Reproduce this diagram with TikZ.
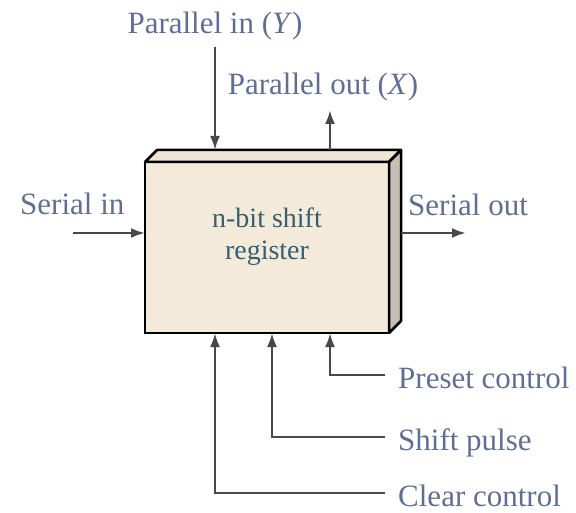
\documentclass[tikz,border=0pt]{standalone}
\usepackage{fontspec}
\setmainfont{Liberation Serif}
\usepackage{xcolor}
\usepackage{tikz}
\usetikzlibrary{
    positioning,
    arrows.meta
}

\definecolor{lblblue}{RGB}{96,110,150}
\definecolor{txtteal}{RGB}{55,95,112}
\definecolor{wire}{RGB}{72,72,72}
\definecolor{frontfill}{RGB}{243,234,218}
\definecolor{topfill}{RGB}{238,228,215}
\definecolor{sidefill}{RGB}{198,190,180}

\begin{document}
\begin{tikzpicture}[
      x=1pt, y=-1pt,
      lbl/.style={inner sep=0pt, text=lblblue, font=\fontsize{31}{36}\selectfont, text height=26pt, text depth=0pt},
      ctl/.style={lbl, inner xsep=13pt, anchor=base west},
      regbox/.style={draw, line width=2.5pt, fill=frontfill, outer sep=0pt, minimum width=244pt, minimum height=171pt},
      sig/.style={-{Latex[length=14pt,width=10pt]}, line width=2.5pt, draw=wire}
    ]
    \useasboundingbox (0,0) rectangle (576,513);

    % register block with its top and side faces
    \node[regbox] (reg) at (267,247.5) {};
    \filldraw[fill=topfill, line width=2.5pt, line join=round] (reg.north west) -- ++(12pt,12pt) -- ([shift={(12pt,12pt)}]reg.north east) -- (reg.north east) -- cycle;
    \filldraw[fill=sidefill, line width=2.5pt, line join=round] (reg.north east) -- ++(12pt,12pt) -- ([shift={(12pt,12pt)}]reg.south east) -- (reg.south east) -- cycle;
    \node[align=center, text=txtteal, font=\fontsize{28}{32}\selectfont] (regtxt) at ([yshift=11pt]reg.center) {n-bit shift\\register};

    % labels
    \node[lbl, anchor=base] (lblPin) at (215,34) {Parallel in (\textit{Y\/})};
    \node[lbl, anchor=base] (lblPout) at (323,95) {Parallel out (\textit{X\/})};
    \node[lbl, anchor=base west] (lblSin) at (20,215) {Serial in};
    \node[lbl, anchor=base west] (lblSout) at (408,216) {Serial out};
    \node[ctl] (lblPre) at (385,388) {Preset control};
    \node[ctl] (lblShift) at (385,450) {Shift pulse};
    \node[ctl] (lblClr) at (385,506) {Clear control};

    \coordinate (pin) at (215,47);
    \coordinate (pout) at (330,110);
    \coordinate (sin) at (73,233);
    \coordinate (sout) at (466,233);

    % parallel and serial lines
    \draw[sig] (pin) -- ([yshift=12pt]reg.north -| pin);
    \draw[sig] ([yshift=12pt]reg.north -| pout) -- (pout);
    \draw[sig] (sin) -- (reg.west |- sin);
    \draw[sig] ([xshift=12pt]reg.east |- sout) -- (sout);

    % control lines
    \draw[sig] (lblPre.west) -| ([xshift=185pt]reg.south west);
    \draw[sig] (lblShift.west) -| ([xshift=127pt]reg.south west);
    \draw[sig] (lblClr.west) -| ([xshift=70pt]reg.south west);
  \end{tikzpicture}
\end{document}
